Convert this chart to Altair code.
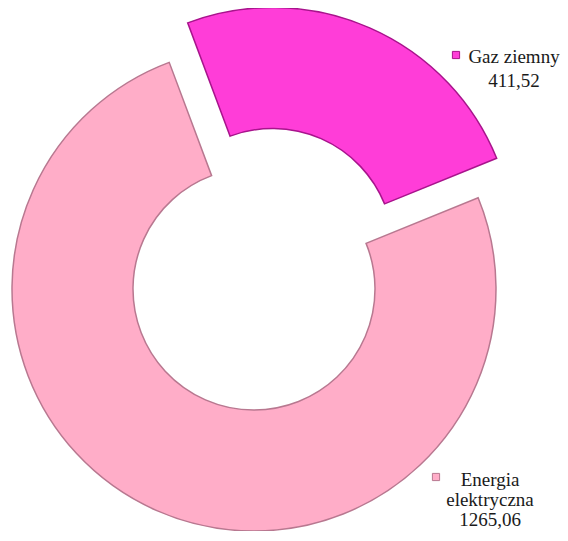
import altair as alt
import pandas as pd

categories = ["Gaz ziemny", "Energia elektryczna"]
label_names = ["Gaz ziemny", "Energia\nelektryczna"]
values = [411.52, 1265.06]
colors = ["#FF3DD8", "#FFADC8"]
strokes = ["#A8148C", "#B87890"]

df = pd.DataFrame({"category": categories, "name": label_names, "value": values, "order": [0, 1]})

ROT = -0.358  # start angle (radians), clockwise from 12 o'clock
R_OUT, R_IN = 242, 121

base = (
    alt.Chart(df)
    .transform_joinaggregate(total="sum(value)")
    .transform_window(cum="sum(value)", sort=[alt.SortField("order")])
    .transform_calculate(
        t0=f"(datum.cum - datum.value) / datum.total * 2 * PI + ({ROT})",
        t1=f"datum.cum / datum.total * 2 * PI + ({ROT})",
        label="datum.name + '\\n' + replace(format(datum.value, '.2f'), '.', ',')",
    )
)

def slice_layer(i, cx, cy):
    return base.transform_filter(alt.datum.category == categories[i]).mark_arc(
        outerRadius=R_OUT, innerRadius=R_IN, fill=colors[i], stroke=strokes[i], strokeWidth=1.5
    ).encode(
        theta=alt.Theta("t0:Q", scale=None),
        theta2="t1:Q",
        x=alt.value(cx),
        y=alt.value(cy),
    )

def label_layer(i, tx, ty, lh, mx, my):
    f = base.transform_filter(alt.datum.category == categories[i])
    txt = f.mark_text(
        font="Liberation Serif", fontSize=19, align="center", baseline="alphabetic",
        lineBreak="\n", lineHeight=lh, color="#1a1a1a",
    ).encode(text="label:N", x=alt.value(tx), y=alt.value(ty))
    mk = f.mark_point(shape="square", filled=True, size=52, fill=colors[i],
                      stroke=strokes[i], strokeWidth=1, opacity=1).encode(
        x=alt.value(mx), y=alt.value(my))
    return txt + mk

chart = alt.layer(
    slice_layer(1, 246, 281),
    slice_layer(0, 264.5, 241.5),
    label_layer(0, 506, 55, 24, 448, 47),
    label_layer(1, 482, 478, 20, 428, 469),
).properties(
    width=552, height=523, padding=0, autosize=alt.AutoSizeParams(type="none")
).configure_view(stroke=None)

chart.save("out.html", embed_options={"renderer": "svg", "actions": False})
